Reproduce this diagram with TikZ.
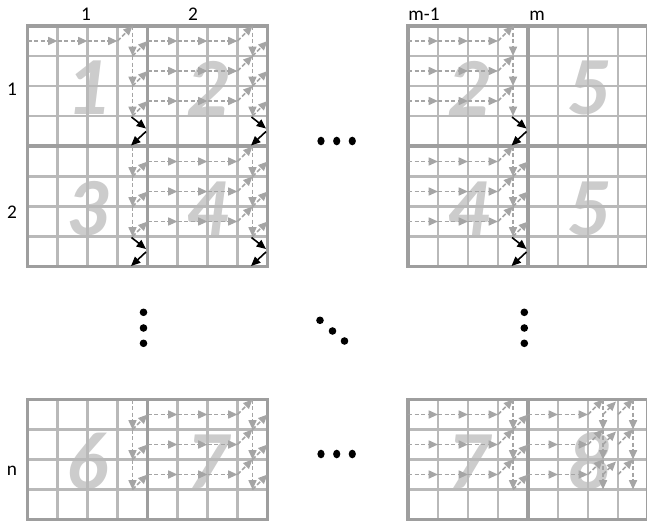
\documentclass[tikz,border=0pt]{standalone}
\usepackage{fontspec}
\setmainfont{Carlito}
\usetikzlibrary{arrows.meta}
\definecolor{gridc}{RGB}{185,185,185}
\definecolor{bordc}{RGB}{158,158,158}
\definecolor{arrc}{RGB}{165,165,165}
\definecolor{digc}{RGB}{204,204,204}
\tikzset{
  gline/.style={gridc, line width=1.9pt},
  bline/.style={bordc, line width=2.4pt},
  darr/.style={arrc, line width=1.25pt, dash pattern=on 3.2pt off 1.7pt, -{Triangle[length=7pt,width=6pt]}},
  karr/.style={black, line width=1.2pt, -{Triangle[length=7pt,width=6pt]}},
  bigdig/.style={digc, inner sep=0pt, font=\fontsize{62}{62}\selectfont\bfseries\itshape},
  lab/.style={inner sep=0pt, anchor=base, font=\fontsize{14.5}{16}\selectfont},
  bdot/.style={fill=black, draw=none},
}
% tile: name, x, y, digit
\newcommand\tilegrid[4]{%
  \node[bigdig] (#1) at (#2+60,#3+62) {#4};
  \foreach \i in {1,2,3}{%
    \draw[gline] (#2+30*\i,#3) -- (#2+30*\i,#3+120);
    \draw[gline] (#2,#3+30*\i) -- (#2+120,#3+30*\i);}
  \draw[bline] (#2,#3) rectangle (#2+120,#3+120);
}
% horizontal arrows: x, y, row, number of cells
\newcommand\hrow[4]{%
  \foreach \j in {1,...,#4}{%
    \draw[darr] (#1+30*\j-30,#2+15+30*#3) -- (#1+30*\j,#2+15+30*#3);}
  \draw[darr] (#1+30*#4,#2+15+30*#3) -- (#1+30*#4+15,#2+30*#3);
}
% vertical arrows: x, y, column
\newcommand\vcol[3]{%
  \foreach \k in {0,1,2}{%
    \draw[darr] (#1+30*#3+15,#2+30*\k) -- (#1+30*#3+15,#2+30*\k+30);}
}
% right diagonals: x, y, column
\newcommand\rdiag[3]{%
  \foreach \k in {0,1,2}{%
    \draw[darr] (#1+30*#3+15,#2+30*\k+30) -- (#1+30*#3+30,#2+30*\k+15);}
}
% black bounce arrows: x, y
\newcommand\bounce[2]{%
  \draw[karr] (#1+104,#2+91) -- (#1+118.5,#2+102.5);
  \draw[karr] (#1+118.5,#2+105.5) -- (#1+103.5,#2+119.5);
}
\begin{document}
\begin{tikzpicture}[x=0.75pt,y=-0.75pt]
\useasboundingbox (0,0) rectangle (647,521);
\clip (0,0) rectangle (647,521);
% tiles
\tilegrid{t11}{27.5}{26}{1}
\tilegrid{t12}{147.5}{26}{2}
\tilegrid{t21}{27.5}{146.5}{3}
\tilegrid{t22}{147.5}{146.5}{4}
\tilegrid{t1a}{408}{26}{2}
\tilegrid{t1b}{528}{26}{5}
\tilegrid{t2a}{408}{146.5}{4}
\tilegrid{t2b}{528}{146.5}{5}
\tilegrid{tn1}{27.5}{399.5}{6}
\tilegrid{tn2}{147.5}{399.5}{7}
\tilegrid{tna}{408}{399.5}{7}
\tilegrid{tnb}{528}{399.5}{8}
% tile 1
\hrow{27.5}{26}{0}{3}
\vcol{27.5}{26}{3}
\rdiag{27.5}{26}{3}
\bounce{27.5}{26}
% tile (1,2)
\foreach \r in {0,1,2}{\hrow{147.5}{26}{\r}{3}}
\vcol{147.5}{26}{3}
\rdiag{147.5}{26}{3}
\bounce{147.5}{26}
% tile (2,1)
\vcol{27.5}{146.5}{3}
\rdiag{27.5}{146.5}{3}
\bounce{27.5}{146.5}
% tile (2,2)
\foreach \r in {0,1,2}{\hrow{147.5}{146.5}{\r}{3}}
\vcol{147.5}{146.5}{3}
\rdiag{147.5}{146.5}{3}
\bounce{147.5}{146.5}
% tile (1,m-1)
\foreach \r in {0,1,2}{\hrow{408}{26}{\r}{3}}
\vcol{408}{26}{3}
\bounce{408}{26}
% tile (2,m-1)
\foreach \r in {0,1,2}{\hrow{408}{146.5}{\r}{3}}
\vcol{408}{146.5}{3}
\rdiag{408}{146.5}{3}
\bounce{408}{146.5}
% tile (n,1)
\vcol{27.5}{399.5}{3}
\rdiag{27.5}{399.5}{3}
% tile (n,2)
\foreach \r in {0,1,2}{\hrow{147.5}{399.5}{\r}{3}}
\vcol{147.5}{399.5}{3}
\rdiag{147.5}{399.5}{3}
% tile (n,m-1)
\foreach \r in {0,1,2}{\hrow{408}{399.5}{\r}{3}}
\vcol{408}{399.5}{3}
\rdiag{408}{399.5}{3}
% tile (n,m)
\foreach \r in {0,1,2}{\hrow{528}{399.5}{\r}{2}}
\vcol{528}{399.5}{2}
\foreach \k in {0,1,2}{%
  \draw[darr] (528+75,399.5+30*\k+15) -- (528+88,399.5+30*\k+2);
  \draw[darr] (528+90,399.5+30*\k+15) -- (528+105,399.5+30*\k);}
\vcol{528}{399.5}{3}
% labels
\node[lab] (c1) at (86,21) {1};
\node[lab] (c2) at (193,21) {2};
\node[lab] (cm1) at (424,21) {m-1};
\node[lab] (cm) at (537,21) {m};
\node[lab] (r1) at (12,95) {1};
\node[lab] (r2) at (12,218) {2};
\node[lab] (rn) at (12,475) {n};
% dots
\foreach \x in {321,336.7,352.3}{%
  \fill[bdot] (\x,141) ellipse [x radius=3.6, y radius=4.3];
  \fill[bdot] (\x,454) ellipse [x radius=3.6, y radius=4.3];}
\foreach \y in {312.3,328,343.3}{%
  \fill[bdot] (143.5,\y) circle [radius=3.8];
  \fill[bdot] (524.3,\y) circle [radius=3.8];}
\fill[bdot] (320,320.3) circle [radius=3.8];
\fill[bdot] (332.5,331) circle [radius=3.8];
\fill[bdot] (344.5,341) circle [radius=3.8];
\end{tikzpicture}
\end{document}
